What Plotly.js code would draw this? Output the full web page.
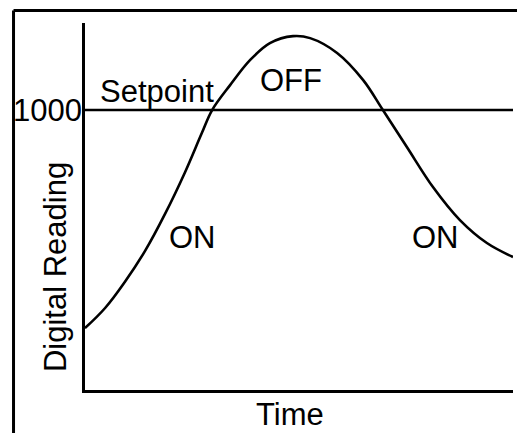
<!DOCTYPE html>
<html>
<head>
<meta charset="utf-8">
<script src="https://cdn.plot.ly/plotly-3.0.1.min.js"></script>
<style>
  html, body { margin: 0; padding: 0; background: #fff; }
  #chart { width: 517px; height: 433px; }
</style>
</head>
<body>
<div id="chart"></div>
<script>
// reading over time (arbitrary time units 0..100)
var timeVals = [0, 4.7, 9.3, 14, 18.7, 23.4, 27.3, 29.7, 33.9, 38.6, 43.2, 48.6, 52.6, 58.9, 65, 69.6, 75.2, 81.3, 87.6, 93.9, 100];
var readingVals = [221, 293, 386, 496, 629, 779, 918, 1000, 1089, 1179, 1239, 1264, 1257, 1204, 1107, 1000, 868, 725, 607, 525, 475];

// setpoint line
var setpointX = [0, 100];
var setpointY = [1000, 1000];

// region labels
var labelText = ['Setpoint', 'OFF', 'ON', 'ON'];
var labelX = [16.8, 48.1, 25.0, 82.0];
var labelY = [1068, 1107, 546, 546];

var tickVals = [1000];
var tickText = ['1000'];

var fontFam = '"Liberation Sans", Arial, sans-serif';
var fontSize = 31;

var curve = {
  x: timeVals,
  y: readingVals,
  type: 'scatter',
  mode: 'lines',
  line: { color: '#000', width: 2.6, shape: 'spline', smoothing: 1 },
  cliponaxis: false,
  hoverinfo: 'skip'
};

var setpoint = {
  x: setpointX,
  y: setpointY,
  type: 'scatter',
  mode: 'lines',
  line: { color: '#000', width: 2.6 },
  cliponaxis: false,
  hoverinfo: 'skip'
};

var annots = labelText.map(function (t, i) {
  return {
    text: t, x: labelX[i], y: labelY[i], xref: 'x', yref: 'y',
    showarrow: false, xanchor: 'center', yanchor: 'middle',
    font: { family: fontFam, size: fontSize, color: '#000' }
  };
});
annots.push({
  text: 'Digital Reading', textangle: -90,
  xref: 'paper', yref: 'paper', x: -0.070, y: 0.335,
  showarrow: false, xanchor: 'center', yanchor: 'middle',
  font: { family: fontFam, size: fontSize, color: '#000' }
});
annots.push({
  text: 'Time',
  xref: 'paper', yref: 'paper', x: 0.479, y: -0.068,
  showarrow: false, xanchor: 'center', yanchor: 'middle',
  font: { family: fontFam, size: fontSize, color: '#000' }
});

var layout = {
  width: 517,
  height: 433,
  margin: { l: 85, r: 4, t: 23, b: 43 },
  paper_bgcolor: '#fff',
  plot_bgcolor: '#fff',
  showlegend: false,
  font: { family: fontFam, color: '#000' },
  xaxis: {
    range: [0, 100],
    showgrid: false, zeroline: false,
    showline: true, linecolor: '#000', linewidth: 2.8,
    showticklabels: false, ticks: ''
  },
  yaxis: {
    range: [0, 1311],
    showgrid: false, zeroline: false,
    showline: true, linecolor: '#000', linewidth: 2.8,
    tickvals: tickVals, ticktext: tickText, ticks: '',
    ticklabelstandoff: -6,
    tickfont: { family: fontFam, size: fontSize, color: '#000' }
  },
  annotations: annots,
  shapes: [
    { type: 'line', xref: 'paper', yref: 'paper', x0: -0.167, x1: -0.167, y0: 1.034, y1: -0.2,
      line: { color: '#000', width: 3 } },
    { type: 'line', xref: 'paper', yref: 'paper', x0: -0.167, x1: 1.1, y0: 1.034, y1: 1.034,
      line: { color: '#000', width: 3 } }
  ]
};

Plotly.newPlot('chart', [curve, setpoint], layout, { displayModeBar: false, staticPlot: true });
</script>
</body>
</html>
